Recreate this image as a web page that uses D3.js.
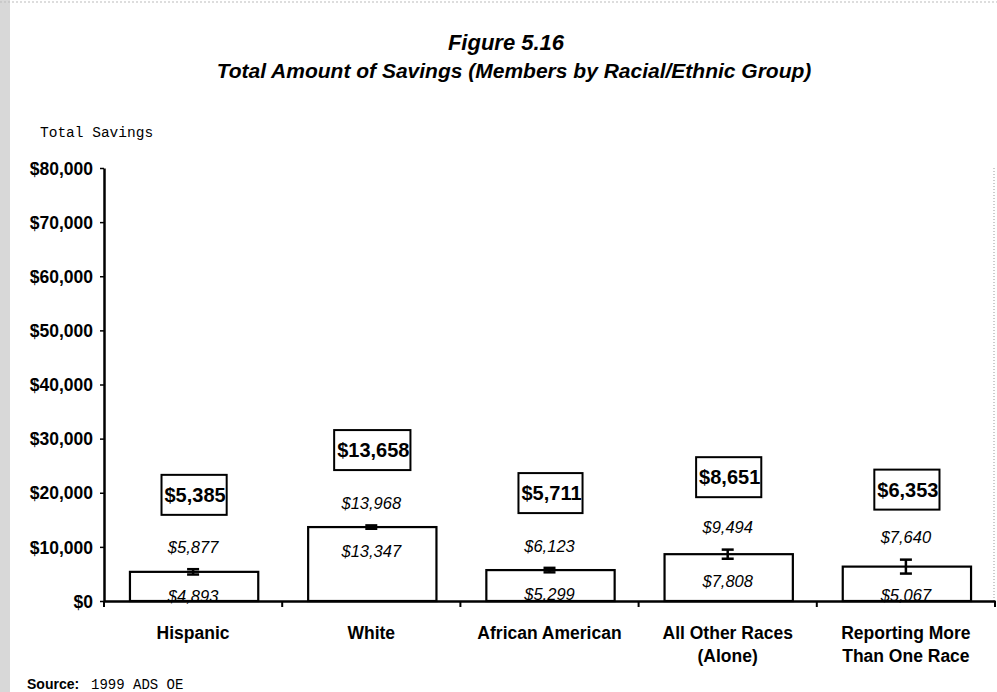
<!DOCTYPE html>
<html><head><meta charset="utf-8">
<script src="https://cdn.jsdelivr.net/npm/d3@7"></script>
<style>
html,body{margin:0;padding:0;background:#fff;}
svg{display:block;}
</style></head>
<body>
<svg id="chart" width="997" height="692"></svg>
<script>
const categories = ["Hispanic", "White", "African American", "All Other Races (Alone)", "Reporting More Than One Race"];
const categoryLines = [["Hispanic"], ["White"], ["African American"], ["All Other Races", "(Alone)"], ["Reporting More", "Than One Race"]];
const meanValues = [5385, 13658, 5711, 8651, 6353];
const lowerValues = [4893, 13347, 5299, 7808, 5067];
const upperValues = [5877, 13968, 6123, 9494, 7640];
const yTicks = [0, 10000, 20000, 30000, 40000, 50000, 60000, 70000, 80000];
const titleLines = ["Figure 5.16", "Total Amount of Savings (Members by Racial/Ethnic Group)"];
const yAxisTitle = "Total Savings";

(function(){
const svg = d3.select("#chart");
const W = 997, H = 692;
const mLeft = 104, mRight = 995, mTop = 168, mBottom = 601;

// scan-like left edge
svg.append("rect").attr("x",0).attr("y",0).attr("width",10).attr("height",H).attr("fill","#d8d8d8");
svg.append("line").attr("x1",0).attr("x2",W).attr("y1",2).attr("y2",2).attr("stroke","#bbb").attr("stroke-dasharray","2,2");

const x = d3.scaleBand().domain(categories).range([mLeft, mRight]).padding(0);
const y = d3.scaleLinear().domain([0, 80000]).range([mBottom, mTop]);
const fmt = v => "$" + d3.format(",")(v);

// title
svg.selectAll("text.title").data(titleLines).enter().append("text")
  .attr("x", (d,i)=> i===0 ? 506 : 514).attr("y", (d,i)=> i===0 ? 50 : 78)
  .attr("text-anchor","middle")
  .attr("font-family","Liberation Sans, Arial, sans-serif")
  .attr("font-weight","bold").attr("font-style","italic")
  .attr("font-size", (d,i)=> i===0 ? 22 : 21)
  .text(d=>d);

svg.append("text").attr("x",40).attr("y",137)
  .attr("font-family","Liberation Mono, Courier New, monospace").attr("font-size",14.5)
  .text(yAxisTitle);

// right dotted border
svg.append("line").attr("x1",994).attr("x2",994).attr("y1",mTop).attr("y2",mBottom)
  .attr("stroke","#999").attr("stroke-dasharray","1,2");

// y axis
const yAxis = d3.axisLeft(y).tickValues(yTicks).tickFormat(fmt).tickSize(4).tickSizeOuter(0);
const gy = svg.append("g").attr("transform",`translate(${mLeft},0)`).call(yAxis);
gy.select(".domain").attr("stroke","#000").attr("stroke-width",2.5);
gy.selectAll(".tick line").attr("stroke","#000").attr("stroke-width",1.5);
gy.selectAll(".tick text").attr("font-family","Liberation Sans, Arial, sans-serif")
  .attr("font-weight","bold").attr("font-size",17.5).attr("fill","#000").attr("x",-11).attr("dy","0.35em");

// x axis
const xAxis = d3.axisBottom(x).tickSize(0).tickFormat("");
const gx = svg.append("g").attr("transform",`translate(0,${mBottom})`).call(xAxis);
gx.select(".domain").attr("stroke","#000").attr("stroke-width",2.5);
const bounds = categories.map(c=>x(c)).concat([x(categories[categories.length-1]) + x.bandwidth()]);
svg.selectAll("line.xtick").data(bounds).enter().append("line")
  .attr("x1",d=>d).attr("x2",d=>d).attr("y1",mBottom).attr("y2",mBottom+6)
  .attr("stroke","#000").attr("stroke-width",2);

// category labels
const catG = svg.selectAll("g.cat").data(categories).enter().append("g");
catG.each(function(c,i){
  const g = d3.select(this);
  categoryLines[i].forEach((ln,j)=>{
    g.append("text").attr("x", x(c)+x.bandwidth()/2).attr("y", 639 + j*23)
      .attr("text-anchor","middle")
      .attr("font-family","Liberation Sans, Arial, sans-serif")
      .attr("font-weight","bold").attr("font-size",17.5).text(ln);
  });
});

// bars
const bw = x.bandwidth()*0.72;
svg.selectAll("rect.bar").data(categories).enter().append("rect")
  .attr("x", c => x(c)+x.bandwidth()/2 - bw/2 + 1)
  .attr("y", (c,i)=> y(meanValues[i]))
  .attr("width", bw)
  .attr("height", (c,i)=> mBottom - y(meanValues[i]))
  .attr("fill","#fff").attr("stroke","#000").attr("stroke-width",2.2);

// error bars and labels
const cap = 6;
categories.forEach((c,i)=>{
  const cx = x(c)+x.bandwidth()/2;
  const g = svg.append("g").attr("stroke","#000").attr("stroke-width",2.5);
  g.append("line").attr("x1",cx).attr("x2",cx).attr("y1",y(upperValues[i])).attr("y2",y(lowerValues[i]));
  g.append("line").attr("x1",cx-cap).attr("x2",cx+cap).attr("y1",y(upperValues[i])).attr("y2",y(upperValues[i]));
  g.append("line").attr("x1",cx-cap).attr("x2",cx+cap).attr("y1",y(lowerValues[i])).attr("y2",y(lowerValues[i]));

  svg.append("text").attr("x",cx).attr("y",y(upperValues[i]) - 22).attr("dy","0.35em")
    .attr("text-anchor","middle").attr("font-family","Liberation Sans, Arial, sans-serif")
    .attr("font-style","italic").attr("font-size",16.5).text(fmt(upperValues[i]));
  svg.append("text").attr("x",cx).attr("y",y(lowerValues[i]) + 22).attr("dy","0.35em")
    .attr("text-anchor","middle").attr("font-family","Liberation Sans, Arial, sans-serif")
    .attr("font-style","italic").attr("font-size",16.5).text(fmt(lowerValues[i]));

  const by = y(meanValues[i]) - 77;
  const t = svg.append("text").attr("x",cx+2).attr("y",by).attr("dy","0.36em")
    .attr("text-anchor","middle").attr("font-family","Liberation Sans, Arial, sans-serif")
    .attr("font-weight","bold").attr("font-size",20).text(fmt(meanValues[i]));
  const bb = t.node().getBBox();
  svg.insert("rect", () => t.node()).attr("x",bb.x-3).attr("y",by-20).attr("width",bb.width+4).attr("height",40)
    .attr("fill","#fff").attr("stroke","#000").attr("stroke-width",2);
});

// source
svg.append("text").attr("x",27).attr("y",689)
  .attr("font-family","Liberation Sans, Arial, sans-serif").attr("font-weight","bold").attr("font-size",14).text("Source:");
svg.append("text").attr("x",91).attr("y",689)
  .attr("font-family","Liberation Mono, Courier New, monospace").attr("font-size",14).text("1999 ADS OE");
})();
</script>
</body></html>
